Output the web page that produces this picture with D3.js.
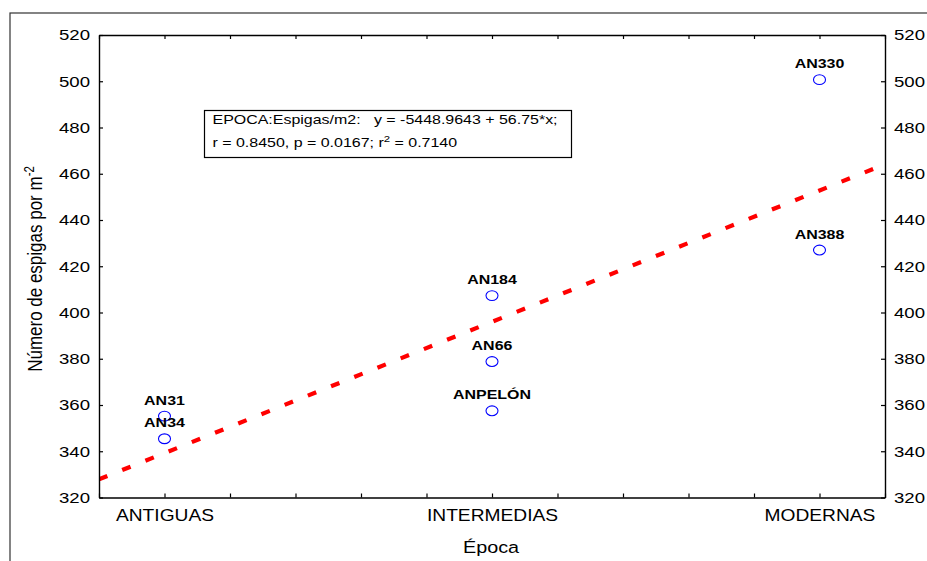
<!DOCTYPE html>
<html>
<head>
<meta charset="utf-8">
<script src="https://cdn.jsdelivr.net/npm/d3@7/dist/d3.min.js"></script>
<style>
  html, body { margin: 0; padding: 0; background: #fff; }
  svg { display: block; }
  text { font-family: Arial, "Liberation Sans", sans-serif; fill: #000; }
</style>
</head>
<body>
<svg id="chart" width="927" height="561"></svg>
<script>
// ---- data ----
const categories = ["ANTIGUAS", "INTERMEDIAS", "MODERNAS"];
const pointLabels = ["AN31", "AN34", "AN184", "AN66", "ANPELÓN", "AN330", "AN388"];
const pointCategory = [1, 1, 2, 2, 2, 3, 3];
const pointValues = [355.2, 345.4, 407.3, 378.8, 357.5, 500.7, 427.0];
const yTicks = [320, 340, 360, 380, 400, 420, 440, 460, 480, 500, 520];
const xMinorTicks = [0.8, 1.0, 1.2, 1.4, 1.6, 1.8, 2.0, 2.2, 2.4, 2.6, 2.8, 3.0, 3.2];
const statLine1 = "EPOCA:Espigas/m2:   y = -5448.9643 + 56.75*x;";
const statLine2 = ["r = 0.8450, p = 0.0167; r", "2", " = 0.7140"];
const xTitle = "Época";
const yTitle = ["Número de espigas por m", "-2"];

// ---- layout ----
const SX = 1.2; // horizontal text stretch seen in the reference
const svg = d3.select("#chart");
const L = 99, R = 885, T = 35, B = 497.5;
const x = d3.scaleLinear().domain([0.8, 3.2]).range([L, R]);
const y = d3.scaleLinear().domain([320, 520]).range([B, T]);

// outer frame
svg.append("rect").attr("x", 10).attr("y", 13).attr("width", 960).attr("height", 600)
  .attr("fill", "none").attr("stroke", "#333").attr("stroke-width", 1.2);

// clip
svg.append("clipPath").attr("id", "plotclip").append("rect")
  .attr("x", L).attr("y", T).attr("width", R - L).attr("height", B - T);

// regression line (least squares on the data, category index as x)
const n = pointValues.length;
const mx = d3.mean(pointCategory), my = d3.mean(pointValues);
let sxy = 0, sxx = 0;
for (let i = 0; i < n; i++) { sxy += (pointCategory[i] - mx) * (pointValues[i] - my); sxx += (pointCategory[i] - mx) ** 2; }
const slope = sxy / sxx, intercept = my - slope * mx;
const [d0, d1] = x.domain();
svg.append("line")
  .attr("clip-path", "url(#plotclip)")
  .attr("x1", x(d0)).attr("y1", y(intercept + slope * d0))
  .attr("x2", x(d1)).attr("y2", y(intercept + slope * d1))
  .attr("stroke", "#ff0000").attr("stroke-width", 4.2).attr("stroke-dasharray", "9,16");

// axes
const fmtCat = v => Math.abs(v - Math.round(v)) < 1e-6 && Math.round(v) >= 1 && Math.round(v) <= 3 ? categories[Math.round(v) - 1] : "";
const gB = svg.append("g").attr("transform", `translate(0,${B})`)
  .call(d3.axisBottom(x).tickValues(xMinorTicks).tickSize(-4).tickSizeOuter(0).tickFormat(fmtCat));
const gT = svg.append("g").attr("transform", `translate(0,${T})`)
  .call(d3.axisTop(x).tickValues(xMinorTicks).tickSize(-4).tickSizeOuter(0).tickFormat(""));
const gL = svg.append("g").attr("transform", `translate(${L},0)`)
  .call(d3.axisLeft(y).tickValues(yTicks).tickSize(-4).tickSizeOuter(0).tickPadding(7.5).tickFormat(d3.format("d")));
const gR = svg.append("g").attr("transform", `translate(${R},0)`)
  .call(d3.axisRight(y).tickValues(yTicks).tickSize(-4).tickSizeOuter(0).tickPadding(7.5).tickFormat(d3.format("d")));

[gB, gT, gL, gR].forEach(g => {
  g.select(".domain").attr("stroke", "#000").attr("stroke-width", 1.4);
  g.selectAll(".tick line").attr("stroke", "#000").attr("stroke-width", 1.2);
  g.selectAll(".tick text").attr("fill", "#000").style("font-family", "Arial, 'Liberation Sans', sans-serif");
});
gL.selectAll(".tick text").style("font-size", "15.5px").attr("transform", `scale(${SX},1)`);
gR.selectAll(".tick text").style("font-size", "15.5px").attr("transform", `scale(${SX},1)`);
gB.selectAll(".tick text").style("font-size", "16px").attr("dy", null).attr("y", 24)
  .attr("transform", `scale(${SX},1)`);

// points
svg.append("g").selectAll("ellipse").data(pointValues).join("ellipse")
  .attr("cx", (d, i) => x(pointCategory[i])).attr("cy", d => y(d))
  .attr("rx", 6).attr("ry", 4.9)
  .attr("fill", "none").attr("stroke", "#0000ff").attr("stroke-width", 1.1);

svg.append("g").selectAll("text").data(pointValues).join("text")
  .attr("transform", (d, i) => `translate(${x(pointCategory[i])},${y(d) - 11.5}) scale(${SX},1)`)
  .attr("text-anchor", "middle").style("font-size", "13.3px").style("font-weight", "bold")
  .text((d, i) => pointLabels[i]);

// stats box
svg.append("rect").attr("x", 204.5).attr("y", 110.5).attr("width", 367).attr("height", 47)
  .attr("fill", "#fff").attr("stroke", "#000").attr("stroke-width", 1.2);
svg.append("text").attr("transform", `translate(212.5,124) scale(${SX},1)`)
  .style("font-size", "13.3px").attr("xml:space", "preserve").text(statLine1);
const t2 = svg.append("text").attr("transform", `translate(212.5,146.5) scale(${SX},1)`)
  .style("font-size", "13.3px").attr("xml:space", "preserve");
t2.append("tspan").text(statLine2[0]);
t2.append("tspan").attr("baseline-shift", "super").style("font-size", "9.5px").text(statLine2[1]);
t2.append("tspan").text(statLine2[2]);

// axis titles
svg.append("text").attr("transform", `translate(491,553) scale(${SX},1)`)
  .attr("text-anchor", "middle").style("font-size", "16.5px").text(xTitle);
const yt = svg.append("text").attr("transform", `translate(41.5,269) rotate(-90) scale(1,${SX})`)
  .attr("text-anchor", "middle").style("font-size", "17px");
yt.append("tspan").text(yTitle[0]);
yt.append("tspan").attr("baseline-shift", "super").style("font-size", "11.5px").text(yTitle[1]);
</script>
</body>
</html>
